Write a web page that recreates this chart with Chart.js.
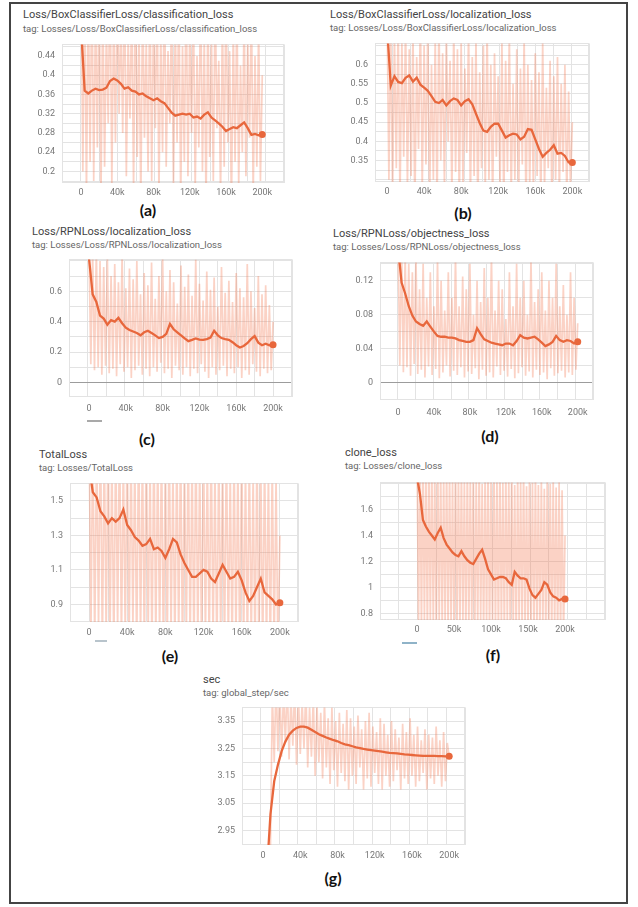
<!DOCTYPE html>
<html><head><meta charset="utf-8">
<script src="https://cdn.jsdelivr.net/npm/chart.js@4"></script>
<style>
body{margin:0;background:#fff;width:638px;height:907px;position:relative;overflow:hidden;font-family:Roboto,"Noto Sans",sans-serif}
#frame{position:absolute;left:9px;top:2px;width:619px;height:902px;box-sizing:border-box;border:2px solid #444}
.t{position:absolute;font-size:11px;color:#444;white-space:nowrap;line-height:12px}
.g{position:absolute;font-size:9.5px;color:#666;white-space:nowrap;line-height:11px}
.lab{position:absolute;font:bold 16px Lato,"Open Sans",sans-serif;color:#111;transform:translate(-50%,-50%);white-space:nowrap}
.u{position:absolute;height:1.5px}
canvas{position:absolute}
</style></head><body>
<div id="frame"></div>
<script>
// ---- data (steps in thousands) ----
const steps = [0,4,8,12,16,20,24,28,32,36,40,44,48,52,56,60,64,68,72,76,80,84,88,92,96,100,104,108,112,116,120,124,128,132,136,140,144,148,152,156,160,164,168,172,176,180,184,188,192,196,200];
const rawSteps = [0,2,4,6,8,10,12,14,16,18,20,22,24,26,28,30,32,34,36,38,40,42,44,46,48,50,52,54,56,58,60,62,64,66,68,70,72,74,76,78,80,82,84,86,88,90,92,94,96,98,100,102,104,106,108,110,112,114,116,118,120,122,124,126,128,130,132,134,136,138,140,142,144,146,148,150,152,154,156,158,160,162,164,166,168,170,172,174,176,178,180,182,184,186,188,190,192,194,196,198,200];

const smoothA = [0.50,0.368,0.362,0.368,0.372,0.369,0.370,0.374,0.388,0.393,0.389,0.382,0.372,0.375,0.368,0.366,0.360,0.362,0.356,0.352,0.348,0.352,0.346,0.342,0.332,0.322,0.316,0.318,0.320,0.318,0.320,0.312,0.314,0.310,0.318,0.323,0.312,0.306,0.300,0.293,0.284,0.288,0.292,0.290,0.296,0.302,0.290,0.276,0.278,0.275,0.277];
const rawA = [0.65,0.20,0.60,0.15,0.58,0.22,0.62,0.18,0.55,0.25,0.60,0.14,0.57,0.21,0.50,0.30,0.63,0.17,0.54,0.26,0.59,0.32,0.52,0.28,0.61,0.19,0.48,0.31,0.56,0.16,0.62,0.23,0.50,0.13,0.58,0.27,0.47,0.20,0.60,0.18,0.53,0.29,0.57,0.15,0.49,0.24,0.62,0.21,0.45,0.30,0.55,0.17,0.51,0.26,0.58,0.14,0.46,0.22,0.60,0.19,0.50,0.28,0.56,0.16,0.44,0.25,0.59,0.20,0.48,0.13,0.54,0.23,0.47,0.18,0.57,0.29,0.43,0.15,0.52,0.21,0.58,0.26,0.45,0.12,0.50,0.22,0.55,0.17,0.42,0.24,0.53,0.19,0.47,0.27,0.56,0.15,0.44,0.21,0.50,0.18,0.40];

const smoothB = [0.70,0.545,0.570,0.555,0.552,0.566,0.572,0.556,0.566,0.548,0.540,0.532,0.518,0.503,0.500,0.508,0.494,0.505,0.512,0.508,0.494,0.505,0.510,0.497,0.472,0.448,0.428,0.425,0.438,0.446,0.446,0.428,0.410,0.416,0.420,0.418,0.405,0.412,0.432,0.430,0.405,0.380,0.360,0.370,0.378,0.390,0.368,0.370,0.362,0.345,0.345];
const rawB = [0.75,0.30,0.70,0.26,0.68,0.33,0.72,0.24,0.66,0.36,0.71,0.28,0.64,0.31,0.69,0.22,0.62,0.38,0.73,0.27,0.65,0.34,0.70,0.25,0.60,0.30,0.67,0.23,0.72,0.35,0.63,0.28,0.68,0.40,0.61,0.26,0.70,0.32,0.64,0.24,0.66,0.29,0.59,0.37,0.69,0.25,0.62,0.31,0.67,0.22,0.58,0.33,0.65,0.27,0.70,0.30,0.60,0.24,0.63,0.36,0.57,0.28,0.66,0.23,0.61,0.32,0.68,0.26,0.55,0.30,0.64,0.25,0.59,0.34,0.67,0.22,0.60,0.29,0.56,0.27,0.63,0.31,0.58,0.24,0.66,0.28,0.54,0.33,0.61,0.23,0.57,0.30,0.62,0.26,0.55,0.32,0.60,0.25,0.53,0.28,0.45];

const smoothC = [0.82,0.58,0.53,0.44,0.42,0.38,0.41,0.40,0.425,0.39,0.36,0.345,0.335,0.325,0.31,0.33,0.34,0.325,0.31,0.292,0.30,0.32,0.385,0.35,0.33,0.31,0.29,0.272,0.28,0.29,0.282,0.28,0.285,0.295,0.34,0.31,0.292,0.285,0.28,0.265,0.245,0.23,0.24,0.258,0.285,0.305,0.262,0.245,0.255,0.245,0.248];
const rawC = [0.90,0.12,0.85,0.08,0.88,0.10,0.80,0.05,0.76,0.11,0.82,0.06,0.70,0.09,0.78,0.04,0.66,0.12,0.84,0.07,0.62,0.10,0.75,0.03,0.68,0.08,0.80,0.11,0.58,0.05,0.72,0.09,0.64,0.04,0.79,0.10,0.55,0.07,0.70,0.13,0.83,0.06,0.60,0.09,0.74,0.03,0.66,0.11,0.52,0.08,0.77,0.05,0.63,0.10,0.71,0.04,0.57,0.09,0.81,0.06,0.65,0.12,0.54,0.07,0.73,0.03,0.61,0.10,0.69,0.05,0.50,0.08,0.76,0.11,0.59,0.04,0.67,0.09,0.53,0.06,0.72,0.10,0.62,0.03,0.56,0.08,0.78,0.05,0.60,0.12,0.49,0.07,0.70,0.04,0.58,0.09,0.64,0.06,0.51,0.08,0.40];

const smoothD = [0.16,0.118,0.105,0.09,0.079,0.072,0.069,0.067,0.072,0.066,0.06,0.055,0.054,0.054,0.053,0.053,0.052,0.05,0.049,0.048,0.048,0.05,0.064,0.057,0.051,0.049,0.047,0.046,0.045,0.044,0.046,0.046,0.044,0.049,0.056,0.053,0.052,0.053,0.054,0.051,0.047,0.043,0.045,0.048,0.055,0.05,0.048,0.05,0.049,0.046,0.048];
const rawD = [0.18,0.020,0.16,0.012,0.15,0.018,0.14,0.008,0.13,0.022,0.15,0.010,0.11,0.015,0.14,0.006,0.10,0.019,0.13,0.009,0.09,0.016,0.145,0.005,0.12,0.012,0.085,0.020,0.13,0.007,0.10,0.014,0.15,0.009,0.09,0.018,0.125,0.006,0.11,0.013,0.14,0.010,0.08,0.017,0.12,0.004,0.095,0.015,0.135,0.008,0.10,0.012,0.15,0.006,0.085,0.019,0.12,0.009,0.11,0.014,0.075,0.007,0.13,0.016,0.09,0.005,0.14,0.011,0.10,0.018,0.12,0.008,0.08,0.013,0.145,0.006,0.095,0.015,0.11,0.009,0.13,0.012,0.085,0.004,0.12,0.017,0.10,0.008,0.14,0.011,0.09,0.014,0.115,0.006,0.08,0.012,0.13,0.009,0.10,0.015,0.07];

const smoothE = [1.70,1.55,1.52,1.44,1.41,1.37,1.40,1.38,1.40,1.45,1.36,1.33,1.29,1.27,1.24,1.25,1.28,1.22,1.23,1.21,1.17,1.22,1.28,1.26,1.19,1.14,1.10,1.06,1.06,1.08,1.10,1.09,1.05,1.03,1.08,1.13,1.09,1.05,1.06,1.09,1.04,0.97,0.92,0.95,1.00,1.05,0.97,0.95,0.93,0.90,0.91];
const rawE = [2.0,0.70,1.95,0.65,1.90,0.75,1.98,0.62,1.85,0.72,1.92,0.68,1.80,0.60,1.88,0.74,1.95,0.66,1.78,0.71,1.90,0.63,1.84,0.76,1.75,0.60,1.93,0.69,1.82,0.64,1.87,0.73,1.72,0.61,1.90,0.67,1.80,0.70,1.85,0.58,1.76,0.66,1.92,0.72,1.70,0.62,1.83,0.68,1.88,0.60,1.74,0.71,1.86,0.64,1.78,0.59,1.90,0.67,1.72,0.63,1.84,0.70,1.76,0.61,1.89,0.66,1.70,0.58,1.81,0.69,1.75,0.62,1.86,0.65,1.68,0.60,1.80,0.67,1.73,0.57,1.85,0.64,1.70,0.61,1.78,0.66,1.66,0.59,1.82,0.63,1.72,0.60,1.77,0.65,1.67,0.58,1.74,0.62,1.64,0.60,1.30];

const smoothF = [1.85,1.72,1.52,1.47,1.43,1.40,1.37,1.42,1.46,1.38,1.33,1.30,1.27,1.25,1.24,1.28,1.24,1.21,1.19,1.18,1.22,1.26,1.29,1.22,1.14,1.10,1.06,1.07,1.08,1.08,1.07,1.04,1.02,1.12,1.09,1.07,1.07,1.06,0.99,0.94,0.92,0.95,0.98,1.04,1.02,0.96,0.93,0.92,0.90,0.91,0.91];
const rawF = [2.1,0.70,2.05,0.66,2.0,0.74,1.95,0.62,2.02,0.71,1.98,0.68,1.90,0.63,2.0,0.73,1.93,0.65,1.88,0.70,1.97,0.64,1.91,0.72,1.85,0.61,1.99,0.69,1.89,0.66,1.94,0.71,1.83,0.62,1.96,0.68,1.87,0.70,1.92,0.60,1.84,0.67,1.98,0.72,1.80,0.63,1.90,0.69,1.95,0.61,1.82,0.70,1.93,0.65,1.86,0.60,1.96,0.68,1.81,0.64,1.91,0.71,1.84,0.62,1.94,0.67,1.79,0.59,1.88,0.70,1.83,0.63,1.92,0.66,1.78,0.61,1.87,0.68,1.81,0.58,1.90,0.65,1.79,0.62,1.85,0.67,1.76,0.60,1.88,0.64,1.80,0.61,1.84,0.66,1.77,0.59,1.82,0.63,1.75,0.61,1.40];

const smoothG = [2.40,2.79,3.01,3.13,3.19,3.24,3.275,3.30,3.315,3.325,3.33,3.33,3.326,3.318,3.31,3.302,3.296,3.29,3.285,3.28,3.276,3.27,3.265,3.262,3.258,3.254,3.251,3.248,3.246,3.244,3.242,3.24,3.238,3.236,3.234,3.233,3.232,3.23,3.228,3.227,3.226,3.225,3.224,3.223,3.223,3.223,3.223,3.222,3.222,3.221,3.221];
const rawG = [2.5,2.6,2.7,2.8,2.9,3.45,3.20,3.50,3.24,3.48,3.22,3.46,3.27,3.50,3.21,3.44,3.26,3.48,3.19,3.45,3.23,3.42,3.25,3.47,3.18,3.40,3.22,3.44,3.15,3.41,3.20,3.38,3.14,3.42,3.18,3.36,3.12,3.40,3.17,3.35,3.11,3.38,3.16,3.34,3.13,3.39,3.10,3.36,3.15,3.33,3.12,3.37,3.18,3.32,3.10,3.35,3.14,3.38,3.11,3.33,3.16,3.31,3.12,3.36,3.10,3.34,3.15,3.30,3.11,3.35,3.13,3.32,3.17,3.29,3.10,3.34,3.14,3.31,3.12,3.36,3.15,3.30,3.11,3.33,3.13,3.28,3.16,3.32,3.10,3.30,3.14,3.29,3.12,3.33,3.15,3.28,3.11,3.31,3.13,3.27,3.22];

// tick labels
const xLabels40 = [0,40000,80000,120000,160000,200000];
const xLabels50 = [0,50000,100000,150000,200000];
const yLabelsA = [0.2,0.24,0.28,0.32,0.36,0.4,0.44];
const yLabelsB = [0.35,0.4,0.45,0.5,0.55,0.6];
const yLabelsC = [0,0.2,0.4,0.6];
const yLabelsD = [0,0.04,0.08,0.12];
const yLabelsE = [0.9,1.1,1.3,1.5];
const yLabelsF = [0.8,1,1.2,1.4,1.6];
const yLabelsG = [2.95,3.05,3.15,3.25,3.35];

const titles = ['Loss/BoxClassifierLoss/classification_loss','Loss/BoxClassifierLoss/localization_loss','Loss/RPNLoss/localization_loss','Loss/RPNLoss/objectness_loss','TotalLoss','clone_loss','sec'];
const tags = ['tag: Losses/Loss/BoxClassifierLoss/classification_loss','tag: Losses/Loss/BoxClassifierLoss/localization_loss','tag: Losses/Loss/RPNLoss/localization_loss','tag: Losses/Loss/RPNLoss/objectness_loss','tag: Losses/TotalLoss','tag: Losses/clone_loss','tag: global_step/sec'];
const letters = ['(a)','(b)','(c)','(d)','(e)','(f)','(g)'];

// ---- layout ----
const LINE = '#e8673c', RAW = 'rgba(244,118,78,0.33)', GRID = '#e3e3e3', AXIS0 = '#9c9c9c', TICKC = '#777';
const FONT = '9px Roboto, "Noto Sans", sans-serif';
const YW = 40, TP = 8, RP = 10, XH = 22;
Chart.defaults.font.family = 'Roboto, "Noto Sans", sans-serif';
Chart.defaults.font.size = 9;
Chart.defaults.color = TICKC;

const panels = [
 {L:62,T:40,R:284,B:183,xMin:-21000,xMax:224000,xStep:20000,xl:xLabels40,yMin:0.176,yMax:0.464,yStep:0.02,yl:yLabelsA,s:smoothA,r:rawA,xo:10,tx:23,ty:15,gy:28,lx:148,ly:209},
 {L:375,T:39,R:589,B:182,xMin:-13000,xMax:218000,xStep:20000,xl:xLabels40,yMin:0.294,yMax:0.6556,yStep:0.025,yl:yLabelsB,s:smoothB,r:rawB,xo:10,tx:330,ty:15,gy:27,lx:463,ly:212},
 {L:69,T:255,R:292,B:397,xMin:-21700,xMax:220600,xStep:20000,xl:xLabels40,yMin:-0.096,yMax:0.81,yStep:0.1,yl:yLabelsC,s:smoothC,r:rawC,xo:12,tx:32,ty:232,gy:244,lx:147,ly:438},
 {L:380,T:258,R:593,B:400,xMin:-20000,xMax:217000,xStep:20000,xl:xLabels40,yMin:-0.0206,yMax:0.1417,yStep:0.02,yl:yLabelsD,s:smoothD,r:rawD,xo:13,tx:333,ty:234,gy:246,lx:490,ly:435},
 {L:70,T:479,R:298,B:622,xMin:-19900,xMax:219000,xStep:20000,xl:xLabels40,yMin:0.799,yMax:1.601,yStep:0.1,yl:yLabelsE,s:smoothE,r:rawE,xo:11,tx:39,ty:455,gy:467,lx:170,ly:655},
 {L:380,T:478,R:605,B:620,xMin:-50000,xMax:254000,xStep:25000,xl:xLabels50,yMin:0.748,yMax:1.81,yStep:0.1,yl:yLabelsF,s:smoothF,r:rawF,xo:10,tx:345,ty:453,gy:465,lx:493,ly:654},
 {L:242,T:703,R:465,B:845,xMin:-22600,xMax:217000,xStep:20000,xl:xLabels40,yMin:2.897,yMax:3.40,yStep:0.05,yl:yLabelsG,s:smoothG,r:rawG,xo:11,tx:203,ty:680,gy:692,lx:333,ly:877}
];

const has = (arr, v) => arr.some(a => Math.abs(a - v) < 1e-7);
const fmtY = v => String(+v.toFixed(4));
const fmtX = v => v === 0 ? '0' : (Math.round(v/1000) + 'k');
const gridColor = ctx => (ctx.tick && Math.abs(ctx.tick.value) < 1e-9) ? AXIS0 : GRID;

const framePlugin = {
  id: 'frameBox',
  beforeDatasetsDraw(chart) {
    const a = chart.chartArea, c = chart.ctx;
    c.save(); c.strokeStyle = GRID; c.lineWidth = 1;
    c.strokeRect(Math.round(a.left)+0.5, Math.round(a.top)+0.5, Math.round(a.right-a.left)-1, Math.round(a.bottom-a.top)-1);
    c.restore();
  }
};
// x tick labels placed through the chart's own x scale
const xLabelPlugin = {
  id: 'xLabels',
  afterDraw(chart, args, opts) {
    const sx = chart.scales.x, a = chart.chartArea, c = chart.ctx;
    c.save(); c.font = FONT; c.fillStyle = TICKC; c.textAlign = 'center'; c.textBaseline = 'middle';
    opts.values.forEach(v => c.fillText(fmtX(v), sx.getPixelForValue(v), a.bottom + opts.offset));
    c.restore();
  }
};

function addDiv(cls, txt, x, y) {
  const d = document.createElement('div'); d.className = cls; d.textContent = txt;
  d.style.left = x + 'px'; d.style.top = y + 'px'; document.body.appendChild(d); return d;
}

panels.forEach((p, i) => {
  addDiv('t', titles[i], p.tx, p.ty - 6);
  addDiv('g', tags[i], p.tx, p.gy - 5.5);
  addDiv('lab', letters[i], p.lx, p.ly);
  const W = p.R - p.L + YW + RP, H = p.B - p.T + TP + XH;
  const cv = document.createElement('canvas');
  cv.width = W; cv.height = H;
  cv.style.left = (p.L - YW) + 'px'; cv.style.top = (p.T - TP) + 'px';
  cv.style.width = W + 'px'; cv.style.height = H + 'px';
  document.body.appendChild(cv);
  const n = steps.length;
  new Chart(cv, {
    type: 'line',
    data: { datasets: [
      { data: steps.map((s, k) => ({x: s*1000, y: p.s[k]})), borderColor: LINE, borderWidth: 2.3, tension: 0,
        pointRadius: ctx => ctx.dataIndex === n - 1 ? 3.5 : 0, pointBackgroundColor: LINE, pointBorderWidth: 0, fill: false },
      { data: rawSteps.map((s, k) => ({x: s*1000, y: p.r[k]})), borderColor: RAW, borderWidth: 1.7, tension: 0, pointRadius: 0, fill: false }
    ]},
    options: {
      responsive: false, animation: false, devicePixelRatio: 1,
      layout: { padding: { top: TP, right: RP, left: 0, bottom: 0 } },
      plugins: { legend: { display: false }, tooltip: { enabled: false },
                 xLabels: { values: p.xl, offset: p.xo } },
      scales: {
        x: { type: 'linear', min: p.xMin, max: p.xMax,
             afterFit: s => { s.height = XH; },
             grid: { color: gridColor, drawTicks: false, lineWidth: 1 },
             border: { display: false },
             ticks: { display: false, stepSize: p.xStep, autoSkip: false, includeBounds: false } },
        y: { type: 'linear', min: p.yMin, max: p.yMax,
             afterFit: s => { s.width = YW; },
             grid: { color: gridColor, drawTicks: false, lineWidth: 1 },
             border: { display: false },
             ticks: { stepSize: p.yStep, autoSkip: false, includeBounds: false, padding: 7,
                      callback: v => has(p.yl, v) ? fmtY(v) : '' } }
      }
    },
    plugins: [framePlugin, xLabelPlugin]
  });
});

// small legend-like dashes under some x axes
[[87,420,15,'#a9a9a9'],[95,640,12,'#b8c4cc'],[402,642,15,'#8fb3c8']].forEach(([x,y,w,c]) => {
  const d = document.createElement('div'); d.className = 'u';
  d.style.left = x+'px'; d.style.top = y+'px'; d.style.width = w+'px'; d.style.background = c;
  document.body.appendChild(d);
});
</script>
</body></html>
